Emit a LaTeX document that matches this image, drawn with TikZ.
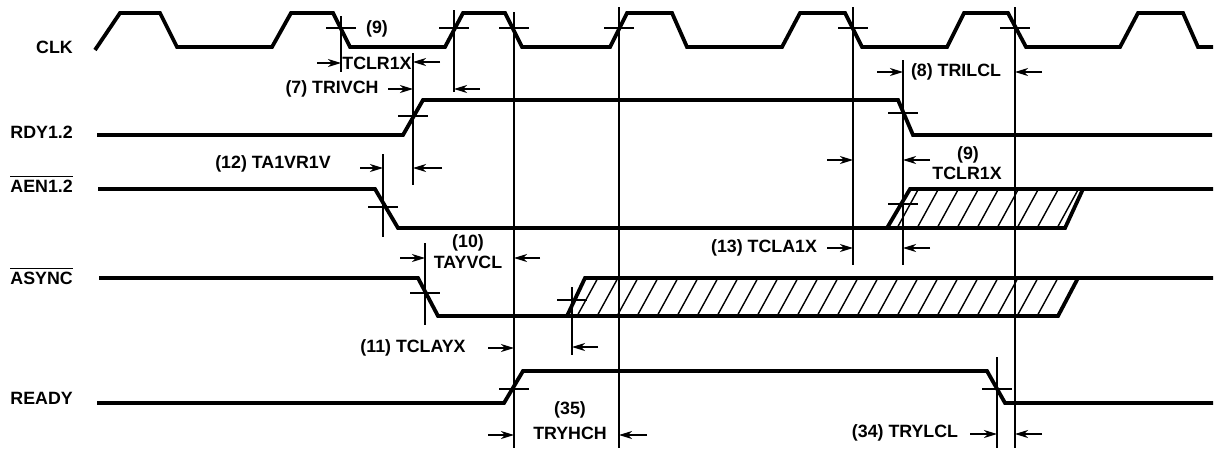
\documentclass[tikz,border=0pt]{standalone}
\usepackage{fontspec}
\setmainfont{Liberation Sans}
\usetikzlibrary{arrows.meta}
\tikzset{
  wave/.style={line width=3.8pt, line join=miter},
  vline/.style={line width=1.1pt},
  tick/.style={line width=1.1pt},
  dim/.style={line width=1.4pt, -{Stealth[length=13pt,width=8pt,inset=4pt]}},
  hatch/.style={line width=1.4pt},
  lbl/.style={font=\fontsize{17.8}{19}\selectfont\bfseries, inner sep=0pt},
  sig/.style={lbl, anchor=east},
  bar/.style={line width=1.5pt},
}
\begin{document}
\begin{tikzpicture}[x=1pt,y=-1pt]
\useasboundingbox (0,0) rectangle (1215,448);

% signal names
\node[sig] (nclk) at (73,47) {CLK};
\node[sig] (nrdy) at (73,132) {RDY1.2};
\node[sig] (naen) at (73,186) {AEN1.2};
\node[sig] (nasy) at (73,278) {ASYNC};
\node[sig] (nready) at (73,398) {READY};
\draw[bar] ([yshift=3pt]naen.north west) -- ([yshift=3pt]naen.north east);
\draw[bar] ([yshift=3pt]nasy.north west) -- ([yshift=3pt]nasy.north east);

% CLK
\draw[wave] (95,50) -- (120,13) -- (160,13) -- (177,47) -- (272,47) -- (291,13) -- (333,13) -- (350,47)
  -- (445,47) -- (463,13) -- (505,13) -- (522,47) -- (610,47) -- (627,13) -- (672,13) -- (687,47)
  -- (782,47) -- (800,13) -- (845,13) -- (862,47) -- (947,47) -- (964,13) -- (1008,13) -- (1026,47)
  -- (1120,47) -- (1138,13) -- (1183,13) -- (1198,47) -- (1213,47);

% RDY1.2
\draw[wave] (97,135) -- (403,135) -- (423,100) -- (898,100) -- (913,135) -- (1212,135);

% AEN1.2
\begin{scope}
\clip (887,228) -- (910,189) -- (1083,189) -- (1065,228) -- cycle;
\foreach \x in {876,896,...,1076} \draw[hatch] (\x,230) -- ++(23,-42);
\end{scope}
\draw[wave] (98,189) -- (375,189) -- (398,228) -- (1065,228) -- (1083,189);
\draw[wave] (887,228) -- (910,189) -- (1213,189);

% ASYNC
\begin{scope}
\clip (567,316) -- (585,278) -- (1078,278) -- (1058,316) -- cycle;
\foreach \x in {556,576,...,1076} \draw[hatch] (\x,318) -- ++(23,-42);
\end{scope}
\draw[wave] (99,278) -- (418,278) -- (438,316) -- (1058,316) -- (1078,278);
\draw[wave] (567,316) -- (585,278) -- (1213,278);

% READY
\draw[wave] (97,403) -- (504,403) -- (523,371) -- (987,371) -- (1005,403) -- (1213,403);

% reference verticals
\draw[vline] (341,16) -- (341,72);
\draw[vline] (413,53) -- (413,185);
\draw[vline] (454,10) -- (454,92);
\draw[vline] (514,12) -- (514,448);
\draw[vline] (619,7) -- (619,448);
\draw[vline] (853,7) -- (853,265);
\draw[vline] (903,60) -- (903,265);
\draw[vline] (1015,7) -- (1015,448);
\draw[vline] (383,154) -- (383,237);
\draw[vline] (425,243) -- (425,325);
\draw[vline] (572,287) -- (572,355);
\draw[vline] (997,357) -- (997,448);

% crossing ticks
\foreach \x/\y in {341/28, 454/28, 514/28, 619/28, 853/28, 1015/28,
                   413/116, 903/113, 383/207, 903/204, 425/293, 572/300,
                   514/389, 997/389}
  \draw[tick] (\x-15,\y) -- (\x+15,\y);

% TCLR1X (top)
\node[lbl] (t9a) at (377,29) {(9)};
\node[lbl] (t9b) at (377,63) {TCLR1X};
\draw[dim] (317,63) -- (341,63);
\draw[dim] (440,62) -- (413,62);

% TRIVCH
\node[lbl] (t7) at (332,89) {(7) TRIVCH};
\draw[dim] (388,89) -- (413,89);
\draw[dim] (480,89) -- (454,89);

% TRILCL
\node[lbl] (t8) at (956,72) {(8) TRILCL};
\draw[dim] (877,72) -- (903,72);
\draw[dim] (1042,72) -- (1015,72);

% TA1VR1V
\node[lbl] (t12) at (273,164) {(12) TA1VR1V};
\draw[dim] (360,168) -- (383,168);
\draw[dim] (442,168) -- (413,168);

% TCLR1X (second)
\node[lbl] (t9c) at (968,155) {(9)};
\node[lbl] (t9d) at (967,173) {TCLR1X};
\draw[dim] (827,160) -- (853,160);
\draw[dim] (930,160) -- (903,160);

% TCLA1X
\node[lbl] (t13) at (764,248) {(13) TCLA1X};
\draw[dim] (827,248) -- (853,248);
\draw[dim] (930,248) -- (903,248);

% TAYVCL
\node[lbl] (t10a) at (468,243) {(10)};
\node[lbl] (t10b) at (468,262) {TAYVCL};
\draw[dim] (400,258) -- (425,258);
\draw[dim] (540,258) -- (514,258);

% TCLAYX
\node[lbl] (t11) at (413,348) {(11) TCLAYX};
\draw[dim] (488,348) -- (514,348);
\draw[dim] (598,347) -- (572,347);

% TRYHCH
\node[lbl] (t35a) at (570,410) {(35)};
\node[lbl] (t35b) at (570,433) {TRYHCH};
\draw[dim] (488,435) -- (514,435);
\draw[dim] (647,435) -- (619,435);

% TRYLCL
\node[lbl] (t34) at (905,433) {(34) TRYLCL};
\draw[dim] (970,434) -- (997,434);
\draw[dim] (1042,434) -- (1015,434);
\end{tikzpicture}
\end{document}
